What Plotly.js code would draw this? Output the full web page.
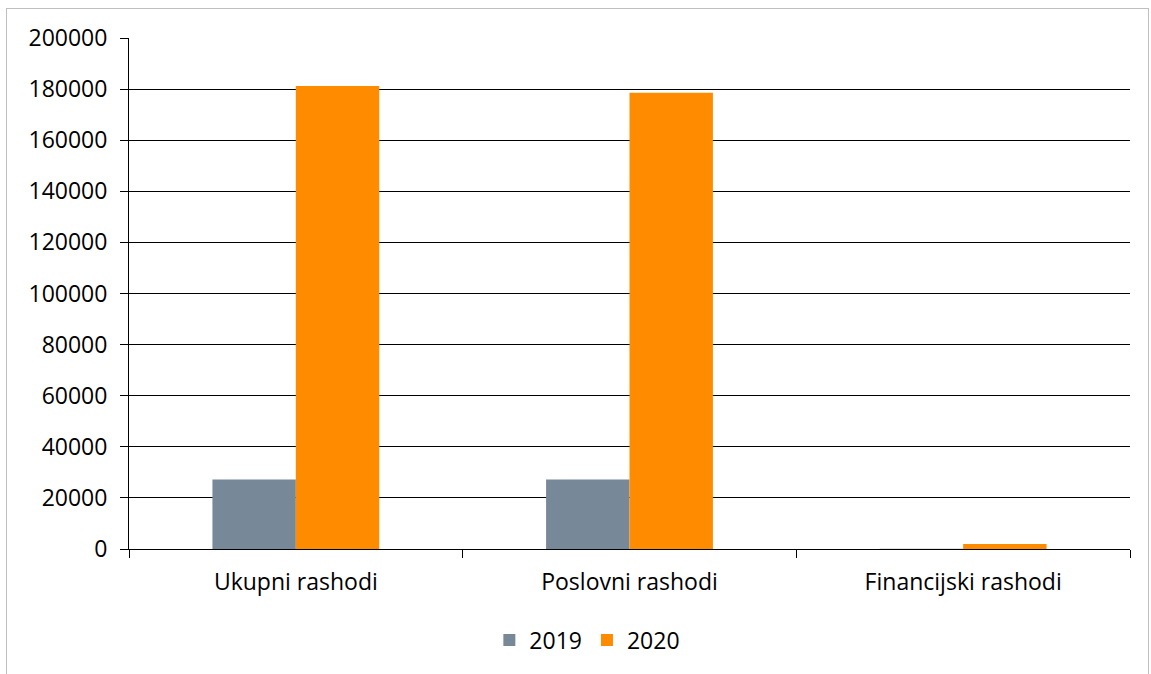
<!DOCTYPE html>
<html>
<head>
<meta charset="utf-8">
<script src="https://cdn.plot.ly/plotly-3.0.1.min.js"></script>
<style>
  html, body { margin: 0; padding: 0; background: #fff; }
  #wrap { position: relative; width: 1151px; height: 674px; }
  #chart { width: 1151px; height: 674px; }
  #frame { position: absolute; left: 6px; top: 8px; width: 1141px; height: 670px; border: 1px solid #bfbfbf; pointer-events: none; }
</style>
</head>
<body>
<div id="wrap">
  <div id="chart"></div>
  <div id="frame"></div>
</div>
<script>
const categories = ["Ukupni rashodi", "Poslovni rashodi", "Financijski rashodi"];
const seriesNames = ["2019", "2020"];
const values2019 = [27200, 27200, 50];
const values2020 = [181200, 178600, 1950];
const yTicks = [0, 20000, 40000, 60000, 80000, 100000, 120000, 140000, 160000, 180000, 200000];

const font = { family: "'Open Sans', sans-serif", size: 23, color: "#000" };

const traces = [
  { type: "bar", name: seriesNames[0], x: categories, y: values2019,
    marker: { color: "#778899", line: { width: 0 } }, hoverinfo: "y" },
  { type: "bar", name: seriesNames[1], x: categories, y: values2020,
    marker: { color: "#FF8C00", line: { width: 0 } }, hoverinfo: "y" }
];

const layout = {
  width: 1151, height: 674,
  margin: { l: 129, r: 21, t: 38, b: 125 },
  paper_bgcolor: "#fff", plot_bgcolor: "#fff",
  barmode: "group", bargap: 0.5, bargroupgap: 0,
  font: font,
  showlegend: true,
  legend: { orientation: "h", x: 0.36, xanchor: "left", y: -0.178, yanchor: "middle",
            font: font, itemwidth: 30, traceorder: "normal" },
  xaxis: {
    type: "category",
    showline: true, linecolor: "#000", linewidth: 1,
    ticks: "outside", tickson: "boundaries", ticklen: 8, tickcolor: "#000",
    showgrid: false, tickfont: font, ticklabelstandoff: 12
  },
  yaxis: {
    range: [0, 200000], tickvals: yTicks, ticktext: yTicks.map(String),
    showline: true, linecolor: "#000", linewidth: 1,
    ticks: "outside", ticklen: 8, tickcolor: "#000",
    showgrid: true, gridcolor: "#000", gridwidth: 1,
    zeroline: false, tickfont: font, ticklabelstandoff: 8
  }
};

Plotly.newPlot("chart", traces, layout, { displayModeBar: false, staticPlot: true });
</script>
</body>
</html>
